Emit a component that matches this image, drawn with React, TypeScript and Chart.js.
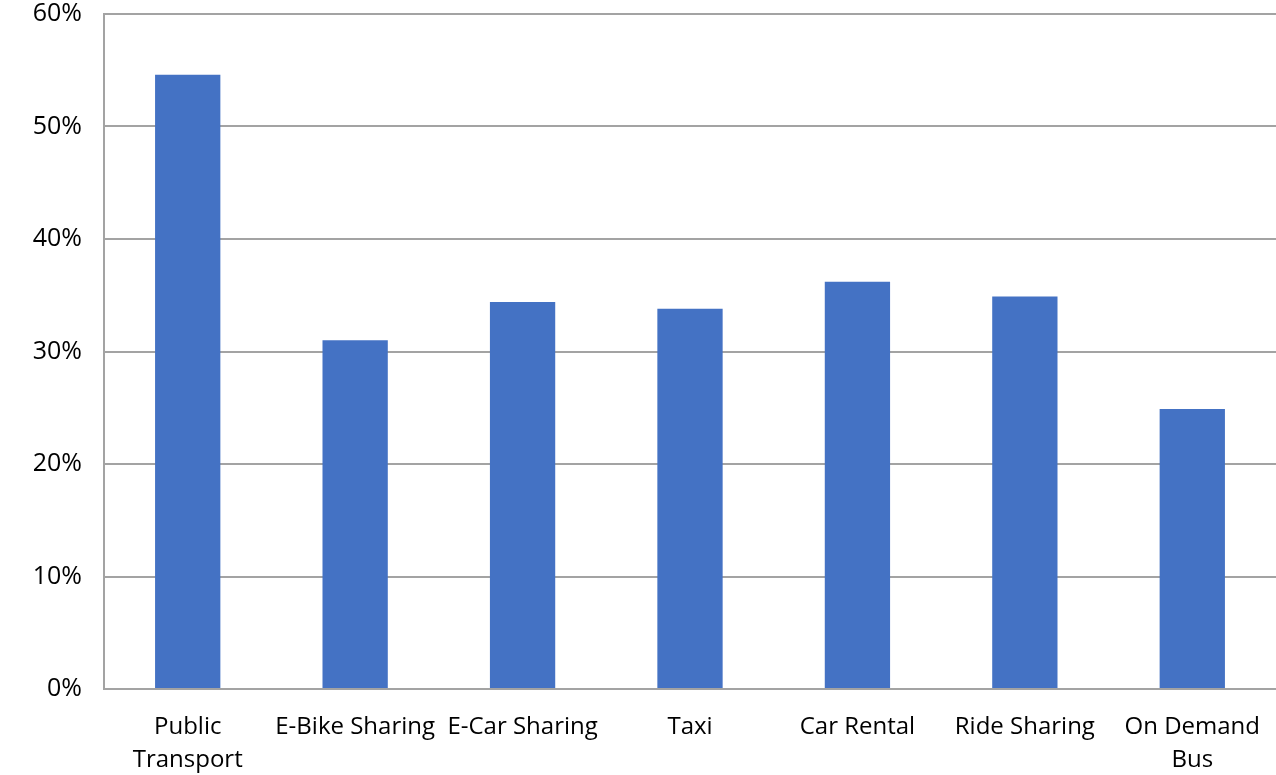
import React, { useEffect, useRef } from "react";
import { Chart, registerables } from "chart.js";

Chart.register(...registerables);

const categories: (string | string[])[] = [
  ["Public", "Transport"],
  "E-Bike Sharing",
  "E-Car Sharing",
  "Taxi",
  "Car Rental",
  "Ride Sharing",
  ["On Demand", "Bus"],
];
const shares = [54.6, 31.0, 34.4, 33.8, 36.2, 34.9, 24.9];
const yTickValues = [0, 10, 20, 30, 40, 50, 60];

export default function App() {
  const ref = useRef<HTMLCanvasElement | null>(null);
  useEffect(() => {
    document.body.style.margin = "0";
    if (!ref.current) return;
    const gridColor = "#a3a3a3";
    const chart = new Chart(ref.current, {
      type: "bar",
      data: {
        labels: categories,
        datasets: [
          {
            data: shares,
            backgroundColor: "#4472C4",
            categoryPercentage: 1,
            barPercentage: 0.39,
          },
        ],
      },
      options: {
        animation: false,
        responsive: false,
        layout: { padding: { top: 0, right: 0, left: 0, bottom: 0 } },
        plugins: { legend: { display: false }, tooltip: { enabled: false } },
        scales: {
          x: {
            grid: { display: false, drawTicks: false },
            border: { display: true, color: gridColor, width: 2 },
            ticks: {
              color: "#000",
              font: { family: "Open Sans", size: 24, lineHeight: 1.36 },
              padding: 22,
              maxRotation: 0,
              autoSkip: false,
            },
            afterFit: (s: any) => {
              s.height = 86;
              s.paddingLeft = 0;
              s.paddingRight = 0;
            },
          },
          y: {
            min: 0,
            max: 60,
            afterBuildTicks: (s: any) => {
              s.ticks = yTickValues.map((v) => ({ value: v }));
            },
            grid: { color: gridColor, lineWidth: 2, drawTicks: false },
            border: { display: true, color: gridColor, width: 2 },
            ticks: {
              color: "#000",
              font: { family: "Open Sans", size: 25 },
              padding: 22,
              callback: (v: any) => v + "%",
            },
            afterFit: (s: any) => {
              s.width = 104;
              s.paddingTop = 14;
              s.paddingBottom = 0;
            },
          },
        },
      },
    });
    return () => chart.destroy();
  }, []);
  return <canvas ref={ref} width={1276} height={775} style={{ display: "block" }} />;
}
